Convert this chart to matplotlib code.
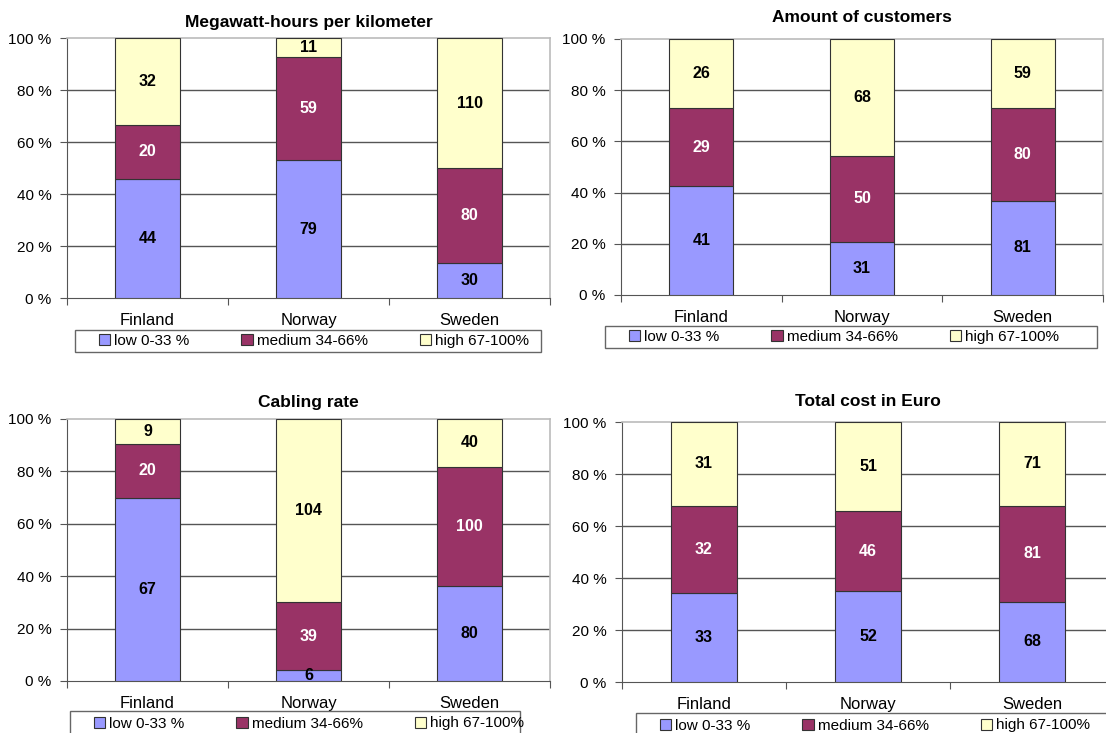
import matplotlib
matplotlib.use("Agg")
import matplotlib.pyplot as plt
import matplotlib.patches as mpatches
import numpy as np

plt.rcParams['font.family'] = ['Liberation Sans', 'DejaVu Sans']

countries = ["Finland", "Norway", "Sweden"]
series_names = ["low 0-33 %", "medium 34-66%", "high 67-100%"]
colors = ["#9999FF", "#993366", "#FFFFCC"]
label_colors = ["black", "white", "black"]

# counts per country: low, medium, high
mwh_low = [44, 79, 30]
mwh_med = [20, 59, 80]
mwh_high = [32, 11, 110]

cust_low = [41, 31, 81]
cust_med = [29, 50, 80]
cust_high = [26, 68, 59]

cab_low = [67, 6, 80]
cab_med = [20, 39, 100]
cab_high = [9, 104, 40]

cost_low = [33, 52, 68]
cost_med = [32, 46, 81]
cost_high = [31, 51, 71]

panels = [
    ("Megawatt-hours per kilometer", [mwh_low, mwh_med, mwh_high]),
    ("Amount of customers", [cust_low, cust_med, cust_high]),
    ("Cabling rate", [cab_low, cab_med, cab_high]),
    ("Total cost in Euro", [cost_low, cost_med, cost_high]),
]

W, H = 1106, 733
fig = plt.figure(figsize=(W / 100, H / 100), dpi=100)

# pixel boxes: axes (x0, y0, x1, y1), legend frame (x0, y0, x1, y1), title y
boxes = [
    ((67, 38, 550, 298), (75, 330, 541, 352), 22),
    ((621, 39, 1103, 295), (605, 326, 1097, 348), 18),
    ((67, 419, 550, 681), (70, 711, 520, 736), 403),
    ((622, 422, 1114, 682), (636, 713, 1130, 738), 402),
]


def fbox(x0, y0, x1, y1):
    return [x0 / W, 1 - y1 / H, (x1 - x0) / W, (y1 - y0) / H]


for (title, series), (abox, lbox, ty) in zip(panels, boxes):
    ax = fig.add_axes(fbox(*abox))
    data = np.array(series, dtype=float)
    pct = data / data.sum(axis=0) * 100
    x = np.arange(len(countries)) + 0.5
    bottom = np.zeros(len(countries))
    for i in range(len(series_names)):
        ax.bar(x, pct[i], 0.4, bottom=bottom, color=colors[i],
               edgecolor="#333333", linewidth=0.8, zorder=3)
        for xi, b, p, v in zip(x, bottom, pct[i], data[i]):
            ax.text(xi, b + p / 2, "%d" % v, ha="center", va="center",
                    fontsize=11.5, fontweight="bold", color=label_colors[i],
                    zorder=4)
        bottom += pct[i]

    ax.set_xlim(0, 3)
    ax.set_ylim(0, 100)
    ax.set_yticks([0, 20, 40, 60, 80, 100])
    ax.set_yticklabels(["%d %%" % t for t in [0, 20, 40, 60, 80, 100]],
                       fontsize=11)
    ax.set_xticks([0, 1, 2, 3])
    ax.set_xticklabels([])
    ax.set_xticks(x, minor=True)
    ax.set_xticklabels(countries, minor=True, fontsize=12)
    ax.tick_params(axis="x", which="minor", length=0, pad=11)
    ax.tick_params(axis="x", which="major", length=5, color="#555555")
    ax.tick_params(axis="y", length=5, color="#555555", pad=6)
    for yg in [20, 40, 60, 80]:
        ax.axhline(yg, color="#555555", linewidth=1.0, zorder=1)
    ax.spines["left"].set_color("#555555")
    ax.spines["bottom"].set_color("#555555")
    ax.spines["top"].set_color("#BBBBBB")
    ax.spines["right"].set_color("#BBBBBB")
    ax.spines["top"].set_linewidth(1.2)
    ax.spines["right"].set_linewidth(1.2)
    ax.set_title(title, fontsize=12.5, fontweight="bold", pad=0,
                 y=1 + (abox[1] - ty) / (abox[3] - abox[1]), va="center")

    # legend frame drawn separately so the inner padding can be wider
    lx0, ly0, lx1, ly1 = lbox
    fb = fbox(lx0, ly0, lx1, ly1)
    fig.patches.append(mpatches.Rectangle((fb[0], fb[1]), fb[2], fb[3],
                                          transform=fig.transFigure,
                                          facecolor="white",
                                          edgecolor="#666666",
                                          linewidth=1.0))
    handles = [mpatches.Patch(facecolor=c, edgecolor="#333333", linewidth=0.8)
               for c in colors]
    fig.legend(handles, series_names, loc="center left",
               bbox_to_anchor=((lx0 + 24) / W, 1 - (ly0 + ly1) / 2 / H),
               ncol=3, frameon=False, fontsize=11, handlelength=0.75,
               handleheight=0.75, handletextpad=0.25,
               borderpad=0, borderaxespad=0, columnspacing=3.4)

fig.savefig("out.png", dpi=100)
